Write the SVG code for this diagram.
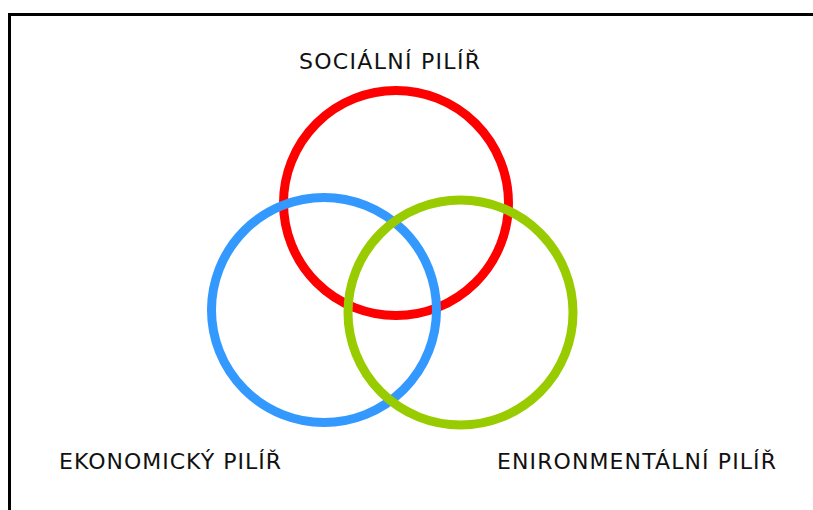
<svg xmlns="http://www.w3.org/2000/svg" width="813" height="510" viewBox="0 0 813 510">
<style>
.ring{fill:none;stroke-width:9}
.lbl{font-family:"DejaVu Sans","Liberation Sans",sans-serif;font-size:22px;fill:#111}
</style>
<rect width="813" height="510" fill="#fff"/>
<path d="M9.5,511 V14.5 H814" fill="none" stroke="#000" stroke-width="3"/>
<g id="social"><circle class="ring" cx="396" cy="203" r="112.5" stroke="#ff0000"/></g>
<g id="economic"><circle class="ring" cx="324" cy="310" r="112.5" stroke="#3399ff"/></g>
<g id="environmental"><circle class="ring" cx="460.5" cy="312.5" r="112.5" stroke="#99cc00"/></g>
<g id="connectors"/>
<text class="lbl" x="299" y="68.5" textLength="181" lengthAdjust="spacing">SOCIÁLNÍ PILÍŘ</text>
<text class="lbl" x="59" y="468.5" textLength="222" lengthAdjust="spacing">EKONOMICKÝ PILÍŘ</text>
<text class="lbl" x="497" y="468.5" textLength="279" lengthAdjust="spacing">ENIRONMENTÁLNÍ PILÍŘ</text>
</svg>
